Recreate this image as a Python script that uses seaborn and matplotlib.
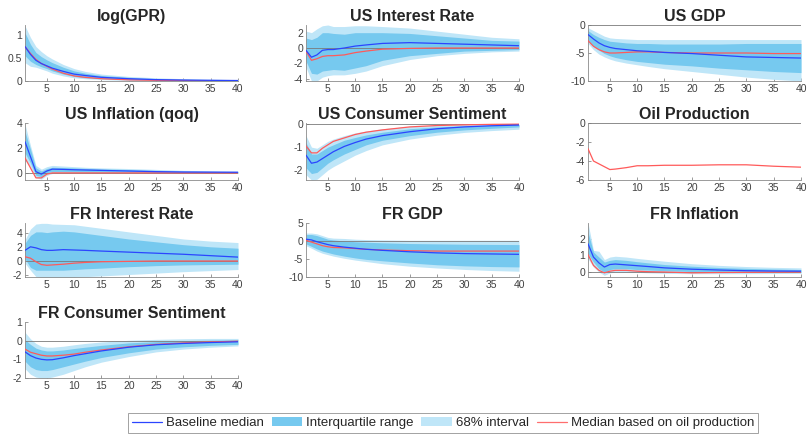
"""
plot.py
Impulse responses to a GPR shock: baseline median with interquartile and
68% bands, plus the median based on oil production.
"""

import numpy as np
import matplotlib
matplotlib.use("Agg")
import matplotlib.pyplot as plt
import seaborn as sns
from matplotlib.patches import Patch
from matplotlib.lines import Line2D

# ── Data ──────────────────────────────────────────────────────────────────────
H = [1, 2, 3, 4, 5, 6, 8, 10, 12, 15, 20, 25, 30, 35, 40]

gpr_med = [0.75, 0.58, 0.45, 0.38, 0.33, 0.28, 0.21, 0.15, 0.12, 0.08, 0.05, 0.03, 0.02, 0.015, 0.01]
gpr_oil = [0.75, 0.60, 0.47, 0.38, 0.32, 0.26, 0.17, 0.11, 0.08, 0.05, 0.025, 0.015, 0.01, 0.005, 0.003]
gpr_68_hi = [1.20, 0.95, 0.75, 0.64, 0.55, 0.48, 0.36, 0.27, 0.21, 0.15, 0.10, 0.07, 0.05, 0.04, 0.03]
gpr_iqr_hi = [1.05, 0.80, 0.62, 0.53, 0.46, 0.40, 0.30, 0.22, 0.17, 0.12, 0.08, 0.05, 0.04, 0.03, 0.02]
gpr_iqr_lo = [0.55, 0.43, 0.36, 0.31, 0.27, 0.22, 0.15, 0.10, 0.07, 0.05, 0.03, 0.02, 0.01, 0.005, 0.003]
gpr_68_lo = [0.40, 0.32, 0.30, 0.26, 0.22, 0.17, 0.11, 0.07, 0.05, 0.03, 0.01, 0.005, 0.0, 0.0, 0.0]

usir_med = [-0.3, -1.2, -0.9, -0.3, -0.2, -0.2, 0.0, 0.25, 0.4, 0.6, 0.7, 0.6, 0.5, 0.4, 0.3]
usir_oil = [-0.4, -1.6, -1.4, -1.1, -1.0, -1.0, -0.9, -0.6, -0.4, -0.15, -0.05, 0.0, 0.0, 0.0, 0.0]
usir_68_hi = [2.2, 2.0, 2.5, 2.9, 3.0, 2.8, 2.8, 2.9, 2.9, 2.8, 2.6, 2.2, 1.8, 1.4, 1.2]
usir_iqr_hi = [1.3, 1.1, 1.4, 2.0, 2.0, 1.9, 1.8, 2.0, 2.0, 2.0, 1.9, 1.6, 1.3, 1.0, 0.9]
usir_iqr_lo = [-1.7, -3.3, -3.4, -3.0, -2.9, -2.8, -2.9, -2.6, -2.3, -1.6, -1.0, -0.7, -0.4, -0.3, -0.2]
usir_68_lo = [-2.5, -4.3, -4.3, -3.8, -3.6, -3.5, -3.5, -3.3, -3.0, -2.3, -1.5, -1.0, -0.7, -0.5, -0.4]

usgdp_med = [-1.7, -2.5, -3.2, -3.7, -4.0, -4.2, -4.4, -4.6, -4.7, -4.9, -5.1, -5.4, -5.7, -5.8, -5.9]
usgdp_oil = [-2.8, -3.8, -4.4, -4.8, -5.0, -5.0, -4.9, -4.8, -4.8, -4.9, -5.0, -5.0, -5.0, -5.1, -5.1]
usgdp_68_hi = [-0.5, -1.0, -1.5, -2.0, -2.3, -2.4, -2.5, -2.6, -2.6, -2.6, -2.6, -2.6, -2.6, -2.6, -2.6]
usgdp_iqr_hi = [-1.0, -1.7, -2.2, -2.6, -2.9, -3.0, -3.2, -3.3, -3.3, -3.4, -3.4, -3.4, -3.3, -3.3, -3.3]
usgdp_iqr_lo = [-2.8, -3.8, -4.5, -5.1, -5.5, -5.8, -6.2, -6.5, -6.7, -7.0, -7.3, -7.7, -8.0, -8.3, -8.5]
usgdp_68_lo = [-3.3, -4.4, -5.2, -5.7, -6.1, -6.4, -6.8, -7.1, -7.4, -7.8, -8.3, -8.8, -9.3, -9.7, -10.0]

usinf_med = [2.5, 1.3, 0.1, -0.1, 0.15, 0.3, 0.28, 0.25, 0.23, 0.2, 0.15, 0.1, 0.07, 0.06, 0.05]
usinf_oil = [1.2, 0.4, -0.4, -0.4, -0.1, 0.0, 0.0, 0.0, 0.0, 0.0, 0.0, 0.0, 0.0, 0.0, 0.0]
usinf_68_hi = [3.9, 2.2, 0.6, 0.3, 0.5, 0.6, 0.55, 0.5, 0.45, 0.4, 0.35, 0.28, 0.2, 0.17, 0.15]
usinf_iqr_hi = [3.3, 1.9, 0.4, 0.15, 0.35, 0.45, 0.43, 0.4, 0.36, 0.32, 0.27, 0.2, 0.15, 0.12, 0.1]
usinf_iqr_lo = [1.6, 0.8, -0.2, -0.3, 0.0, 0.1, 0.1, 0.08, 0.07, 0.06, 0.05, 0.03, 0.02, 0.01, 0.0]
usinf_68_lo = [1.0, 0.5, -0.4, -0.5, -0.2, -0.05, -0.05, -0.05, -0.05, -0.05, -0.05, -0.05, -0.05, -0.05, -0.05]

uscs_med = [-1.35, -1.7, -1.65, -1.5, -1.35, -1.2, -0.97, -0.8, -0.65, -0.5, -0.33, -0.2, -0.12, -0.07, -0.04]
uscs_oil = [-0.95, -1.25, -1.25, -1.05, -0.9, -0.75, -0.6, -0.45, -0.35, -0.25, -0.12, -0.06, -0.03, -0.01, 0.0]
uscs_68_hi = [-0.5, -1.0, -1.05, -0.9, -0.75, -0.65, -0.5, -0.38, -0.3, -0.2, -0.1, -0.05, -0.02, -0.01, 0.0]
uscs_iqr_hi = [-0.8, -1.3, -1.3, -1.15, -1.0, -0.9, -0.7, -0.58, -0.47, -0.35, -0.2, -0.12, -0.07, -0.04, -0.02]
uscs_iqr_lo = [-1.9, -2.15, -2.1, -1.9, -1.7, -1.55, -1.3, -1.1, -0.9, -0.7, -0.5, -0.35, -0.25, -0.18, -0.12]
uscs_68_lo = [-2.2, -2.43, -2.4, -2.2, -2.0, -1.85, -1.6, -1.35, -1.15, -0.9, -0.65, -0.48, -0.36, -0.28, -0.22]

oilprod_oil = [-2.7, -4.0, -4.3, -4.6, -4.9, -4.85, -4.7, -4.5, -4.5, -4.45, -4.45, -4.4, -4.4, -4.55, -4.65]

frir_med = [1.5, 2.0, 1.85, 1.6, 1.5, 1.5, 1.6, 1.55, 1.5, 1.4, 1.25, 1.1, 0.95, 0.75, 0.55]
frir_oil = [0.6, 0.4, -0.1, -0.5, -0.6, -0.55, -0.45, -0.3, -0.2, -0.1, -0.05, 0.0, 0.0, 0.0, 0.0]
frir_68_hi = [3.0, 4.5, 5.2, 5.3, 5.3, 5.2, 5.15, 5.1, 4.9, 4.6, 4.1, 3.6, 3.1, 2.8, 2.6]
frir_iqr_hi = [2.5, 3.6, 4.1, 4.1, 4.0, 4.1, 4.2, 4.1, 3.9, 3.6, 3.1, 2.7, 2.3, 2.0, 1.8]
frir_iqr_lo = [0.3, -0.9, -1.3, -1.3, -1.3, -1.3, -1.3, -1.2, -1.1, -1.0, -0.8, -0.65, -0.55, -0.5, -0.45]
frir_68_lo = [-0.3, -1.3, -2.2, -2.3, -2.4, -2.4, -2.4, -2.3, -2.2, -2.1, -1.9, -1.7, -1.5, -1.35, -1.2]

frgdp_med = [0.5, 0.3, -0.2, -0.6, -1.0, -1.3, -1.7, -2.0, -2.3, -2.6, -3.0, -3.3, -3.5, -3.6, -3.7]
frgdp_oil = [0.2, -0.3, -0.8, -1.3, -1.6, -1.8, -1.9, -2.1, -2.3, -2.5, -2.7, -2.8, -2.8, -2.8, -2.8]
frgdp_68_hi = [2.2, 2.2, 2.0, 1.5, 1.0, 0.8, 0.7, 0.5, 0.4, 0.3, 0.2, 0.2, 0.2, 0.2, 0.2]
frgdp_iqr_hi = [1.8, 1.8, 1.5, 1.0, 0.5, 0.3, 0.0, -0.2, -0.35, -0.5, -0.7, -0.8, -0.9, -0.95, -1.0]
frgdp_iqr_lo = [-0.8, -1.5, -2.2, -2.8, -3.2, -3.6, -4.2, -4.7, -5.1, -5.5, -6.1, -6.6, -6.9, -7.1, -7.2]
frgdp_68_lo = [-1.3, -2.0, -2.8, -3.4, -3.8, -4.2, -4.8, -5.3, -5.7, -6.3, -7.0, -7.5, -7.9, -8.2, -8.4]

frinf_med = [1.7, 0.9, 0.55, 0.3, 0.45, 0.48, 0.43, 0.38, 0.33, 0.25, 0.17, 0.12, 0.08, 0.06, 0.05]
frinf_oil = [1.05, 0.4, 0.1, -0.05, 0.05, 0.1, 0.1, 0.05, 0.02, 0.0, -0.05, -0.03, -0.02, -0.01, 0.0]
frinf_68_hi = [2.95, 1.3, 1.25, 0.75, 0.9, 0.95, 0.9, 0.82, 0.75, 0.65, 0.5, 0.4, 0.33, 0.28, 0.25]
frinf_iqr_hi = [2.4, 1.2, 0.9, 0.6, 0.7, 0.75, 0.7, 0.62, 0.55, 0.45, 0.35, 0.27, 0.22, 0.18, 0.15]
frinf_iqr_lo = [1.1, 0.6, 0.2, 0.0, 0.15, 0.2, 0.2, 0.15, 0.12, 0.08, 0.03, 0.0, -0.02, -0.03, -0.03]
frinf_68_lo = [0.8, 0.3, 0.0, -0.2, -0.05, 0.0, 0.0, -0.02, -0.05, -0.08, -0.1, -0.1, -0.1, -0.09, -0.08]

frcs_med = [-0.6, -0.8, -0.93, -1.0, -1.03, -1.02, -0.92, -0.8, -0.7, -0.55, -0.35, -0.22, -0.15, -0.1, -0.06]
frcs_oil = [-0.45, -0.62, -0.7, -0.78, -0.82, -0.82, -0.78, -0.72, -0.62, -0.5, -0.33, -0.2, -0.12, -0.07, -0.03]
frcs_68_hi = [0.45, 0.1, -0.15, -0.3, -0.35, -0.35, -0.3, -0.22, -0.15, -0.07, 0.02, 0.07, 0.1, 0.12, 0.12]
frcs_iqr_hi = [0.05, -0.2, -0.4, -0.5, -0.55, -0.55, -0.5, -0.42, -0.35, -0.25, -0.12, -0.05, 0.0, 0.03, 0.05]
frcs_iqr_lo = [-1.1, -1.4, -1.55, -1.6, -1.6, -1.55, -1.4, -1.25, -1.1, -0.9, -0.65, -0.45, -0.33, -0.25, -0.2]
frcs_68_lo = [-1.5, -1.8, -1.95, -2.0, -2.0, -1.95, -1.8, -1.6, -1.4, -1.15, -0.85, -0.6, -0.45, -0.35, -0.28]

# ── Panel table ───────────────────────────────────────────────────────────────
# (title, median, oil median, 68 lo, iqr lo, iqr hi, 68 hi, ylim, yticks, row, col)
panels = [
    ("log(GPR)", gpr_med, gpr_oil, gpr_68_lo, gpr_iqr_lo, gpr_iqr_hi, gpr_68_hi,
     (0, 1.22), [0, 0.5, 1], 0, 0),
    ("US Interest Rate", usir_med, usir_oil, usir_68_lo, usir_iqr_lo, usir_iqr_hi, usir_68_hi,
     (-4.3, 3.0), [-4, -2, 0, 2], 0, 1),
    ("US GDP", usgdp_med, usgdp_oil, usgdp_68_lo, usgdp_iqr_lo, usgdp_iqr_hi, usgdp_68_hi,
     (-10, 0), [-10, -5, 0], 0, 2),
    ("US Inflation (qoq)", usinf_med, usinf_oil, usinf_68_lo, usinf_iqr_lo, usinf_iqr_hi, usinf_68_hi,
     (-0.57, 4.0), [0, 2, 4], 1, 0),
    ("US Consumer Sentiment", uscs_med, uscs_oil, uscs_68_lo, uscs_iqr_lo, uscs_iqr_hi, uscs_68_hi,
     (-2.43, 0.05), [-2, -1, 0], 1, 1),
    ("Oil Production", None, oilprod_oil, None, None, None, None,
     (-6, 0), [-6, -4, -2, 0], 1, 2),
    ("FR Interest Rate", frir_med, frir_oil, frir_68_lo, frir_iqr_lo, frir_iqr_hi, frir_68_hi,
     (-2.25, 5.35), [-2, 0, 2, 4], 2, 0),
    ("FR GDP", frgdp_med, frgdp_oil, frgdp_68_lo, frgdp_iqr_lo, frgdp_iqr_hi, frgdp_68_hi,
     (-10, 5), [-10, -5, 0, 5], 2, 1),
    ("FR Inflation", frinf_med, frinf_oil, frinf_68_lo, frinf_iqr_lo, frinf_iqr_hi, frinf_68_hi,
     (-0.3, 2.95), [0, 1, 2], 2, 2),
    ("FR Consumer Sentiment", frcs_med, frcs_oil, frcs_68_lo, frcs_iqr_lo, frcs_iqr_hi, frcs_68_hi,
     (-2, 1), [-2, -1, 0, 1], 3, 0),
]

# ── Style ─────────────────────────────────────────────────────────────────────
C_IQR = "#76c9ef"
C_68 = "#bfe6f8"
C_MED = "#2b45ff"
C_OIL = "#ff5a5a"
C_AX = "#8a8a8a"

sns.set_style("ticks")
plt.rcParams["font.family"] = ["Liberation Sans", "DejaVu Sans"]

col_left = [25, 306, 588]
col_w = 213
row_top = [25, 123, 223, 322]
row_h = [56, 57, 54, 56]
W, Hpx = 807, 437

fig = plt.figure(figsize=(8.07, 4.37), dpi=100)

for title, med, oil, lo68, loiqr, hiiqr, hi68, ylim, yticks, r, c in panels:
    ax = fig.add_axes([col_left[c] / W, (Hpx - row_top[r] - row_h[r]) / Hpx,
                       col_w / W, row_h[r] / Hpx])
    if med is not None:
        ax.fill_between(H, lo68, hi68, color=C_68, lw=0)
        ax.fill_between(H, loiqr, hiiqr, color=C_IQR, lw=0)
    ax.axhline(0, color="#7a7a7a", lw=0.6, zorder=2)
    if med is not None:
        sns.lineplot(x=H, y=med, ax=ax, color=C_MED, lw=0.9, zorder=4)
    sns.lineplot(x=H, y=oil, ax=ax, color=C_OIL, lw=0.9, zorder=3)

    ax.set_xlim(1, 40)
    ax.set_ylim(*ylim)
    ax.set_xticks([5, 10, 15, 20, 25, 30, 35, 40])
    ax.set_yticks(yticks)
    ax.set_yticklabels([f"{t:g}" for t in yticks])
    ax.tick_params(direction="in", length=2, width=0.6, color=C_AX,
                   labelsize=7.5, labelcolor="#404040", pad=2)
    for s in ["top", "right"]:
        ax.spines[s].set_visible(False)
    for s in ["left", "bottom"]:
        ax.spines[s].set_color(C_AX)
        ax.spines[s].set_linewidth(0.6)
    ax.set_title(title, fontsize=11.5, fontweight="bold", pad=3)

# ── Legend ────────────────────────────────────────────────────────────────────
handles = [
    Line2D([], [], color=C_MED, lw=0.9),
    Patch(facecolor=C_IQR, edgecolor="none"),
    Patch(facecolor=C_68, edgecolor="none"),
    Line2D([], [], color="#ff6e6e", lw=0.9),
]
labels = ["Baseline median", "Interquartile range", "68% interval",
          "Median based on oil production"]
leg = fig.legend(handles, labels, loc="center", bbox_to_anchor=(443 / W, 1 - 423 / Hpx),
                 ncol=4, fontsize=9.5, frameon=True, fancybox=False,
                 handlelength=2.3, handletextpad=0.3, columnspacing=0.6,
                 borderpad=0.3, edgecolor="#8a8a8a")
leg.get_frame().set_linewidth(0.7)

fig.savefig("out.png", dpi=100)
